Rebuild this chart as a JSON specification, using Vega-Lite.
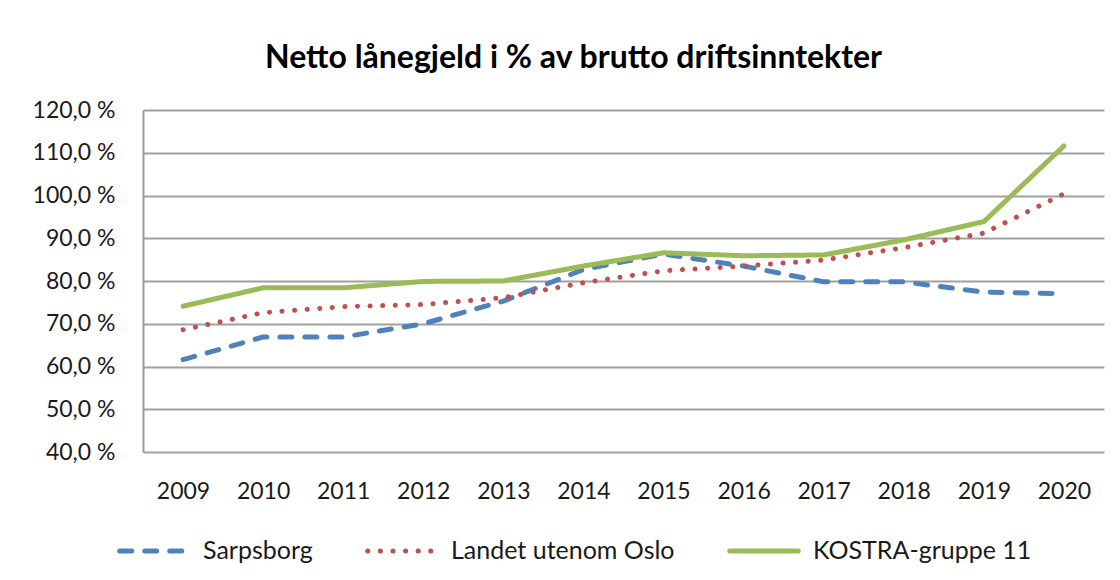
{
  "$schema": "https://vega.github.io/schema/vega-lite/v6.json",
  "width": 961,
  "height": 342,
  "autosize": {"type": "none"},
  "padding": {"left": 143, "top": 110, "right": 16, "bottom": 128},
  "background": "white",
  "title": {
    "text": "Netto lånegjeld i % av brutto driftsinntekter",
    "font": "Lato",
    "fontSize": 32,
    "fontWeight": "bold",
    "color": "#000000",
    "anchor": "middle",
    "frame": "group",
    "dx": -50,
    "offset": 24
  },
  "data": {
    "values": [
      {"year": "2009", "series": "Sarpsborg", "value": 61.6},
      {"year": "2010", "series": "Sarpsborg", "value": 66.9},
      {"year": "2011", "series": "Sarpsborg", "value": 66.9},
      {"year": "2012", "series": "Sarpsborg", "value": 70.0},
      {"year": "2013", "series": "Sarpsborg", "value": 75.3},
      {"year": "2014", "series": "Sarpsborg", "value": 82.7},
      {"year": "2015", "series": "Sarpsborg", "value": 86.3},
      {"year": "2016", "series": "Sarpsborg", "value": 83.5},
      {"year": "2017", "series": "Sarpsborg", "value": 79.8},
      {"year": "2018", "series": "Sarpsborg", "value": 79.8},
      {"year": "2019", "series": "Sarpsborg", "value": 77.4},
      {"year": "2020", "series": "Sarpsborg", "value": 77.0},
      {"year": "2009", "series": "Landet utenom Oslo", "value": 68.6},
      {"year": "2010", "series": "Landet utenom Oslo", "value": 72.6},
      {"year": "2011", "series": "Landet utenom Oslo", "value": 74.0},
      {"year": "2012", "series": "Landet utenom Oslo", "value": 74.5},
      {"year": "2013", "series": "Landet utenom Oslo", "value": 76.1},
      {"year": "2014", "series": "Landet utenom Oslo", "value": 79.6},
      {"year": "2015", "series": "Landet utenom Oslo", "value": 82.4},
      {"year": "2016", "series": "Landet utenom Oslo", "value": 83.5},
      {"year": "2017", "series": "Landet utenom Oslo", "value": 84.9},
      {"year": "2018", "series": "Landet utenom Oslo", "value": 87.8},
      {"year": "2019", "series": "Landet utenom Oslo", "value": 91.2},
      {"year": "2020", "series": "Landet utenom Oslo", "value": 100.4},
      {"year": "2009", "series": "KOSTRA-gruppe 11", "value": 74.1},
      {"year": "2010", "series": "KOSTRA-gruppe 11", "value": 78.4},
      {"year": "2011", "series": "KOSTRA-gruppe 11", "value": 78.4},
      {"year": "2012", "series": "KOSTRA-gruppe 11", "value": 79.9},
      {"year": "2013", "series": "KOSTRA-gruppe 11", "value": 80.0},
      {"year": "2014", "series": "KOSTRA-gruppe 11", "value": 83.5},
      {"year": "2015", "series": "KOSTRA-gruppe 11", "value": 86.6},
      {"year": "2016", "series": "KOSTRA-gruppe 11", "value": 85.9},
      {"year": "2017", "series": "KOSTRA-gruppe 11", "value": 86.1},
      {"year": "2018", "series": "KOSTRA-gruppe 11", "value": 89.6},
      {"year": "2019", "series": "KOSTRA-gruppe 11", "value": 93.9},
      {"year": "2020", "series": "KOSTRA-gruppe 11", "value": 111.6}
    ]
  },
  "mark": {"type": "line", "strokeWidth": 5, "strokeCap": "round", "strokeJoin": "round"},
  "encoding": {
    "x": {
      "field": "year",
      "type": "ordinal",
      "scale": {"type": "point", "padding": 0.5},
      "axis": {
        "title": null,
        "labelAngle": 0,
        "domain": false,
        "ticks": false,
        "grid": false,
        "labelFont": "Lato",
        "labelFontSize": 23,
        "labelColor": "#1a1a1a",
        "labelPadding": 28
      }
    },
    "y": {
      "field": "value",
      "type": "quantitative",
      "scale": {"domain": [40, 120], "nice": false, "zero": false},
      "axis": {
        "title": null,
        "values": [40, 50, 60, 70, 80, 90, 100, 110, 120],
        "labelExpr": "replace(format(datum.value, '.1f'), '.', ',') + ' %'",
        "ticks": false,
        "domain": true,
        "domainColor": "#9a9a9a",
        "domainWidth": 2,
        "grid": true,
        "gridColor": "#a0a0a0",
        "gridWidth": 2,
        "labelFont": "Lato",
        "labelFontSize": 23,
        "labelColor": "#1a1a1a",
        "labelPadding": 28
      }
    },
    "color": {
      "field": "series",
      "type": "nominal",
      "sort": ["Sarpsborg", "Landet utenom Oslo", "KOSTRA-gruppe 11"],
      "scale": {
        "domain": ["Sarpsborg", "Landet utenom Oslo", "KOSTRA-gruppe 11"],
        "range": ["#4F81BD", "#C0504D", "#9BBB59"]
      },
      "legend": {
        "title": null,
        "orient": "none",
        "legendX": -26,
        "legendY": 404,
        "direction": "horizontal",
        "symbolType": "stroke",
        "symbolSize": 4700,
        "symbolStrokeWidth": 5,
        "labelFont": "Lato",
        "labelFontSize": 25,
        "labelColor": "#1a1a1a",
        "labelLimit": 500,
        "labelOffset": 12,
        "columnPadding": 44,
        "encode": {
          "symbols": {"update": {"strokeCap": {"value": "round"}}}
        }
      }
    },
    "strokeDash": {
      "field": "series",
      "type": "nominal",
      "sort": ["Sarpsborg", "Landet utenom Oslo", "KOSTRA-gruppe 11"],
      "scale": {
        "domain": ["Sarpsborg", "Landet utenom Oslo", "KOSTRA-gruppe 11"],
        "range": [[12, 13], [0.1, 12.5], [1, 0]]
      },
      "legend": null
    }
  },
  "config": {
    "view": {"stroke": null}
  }
}
